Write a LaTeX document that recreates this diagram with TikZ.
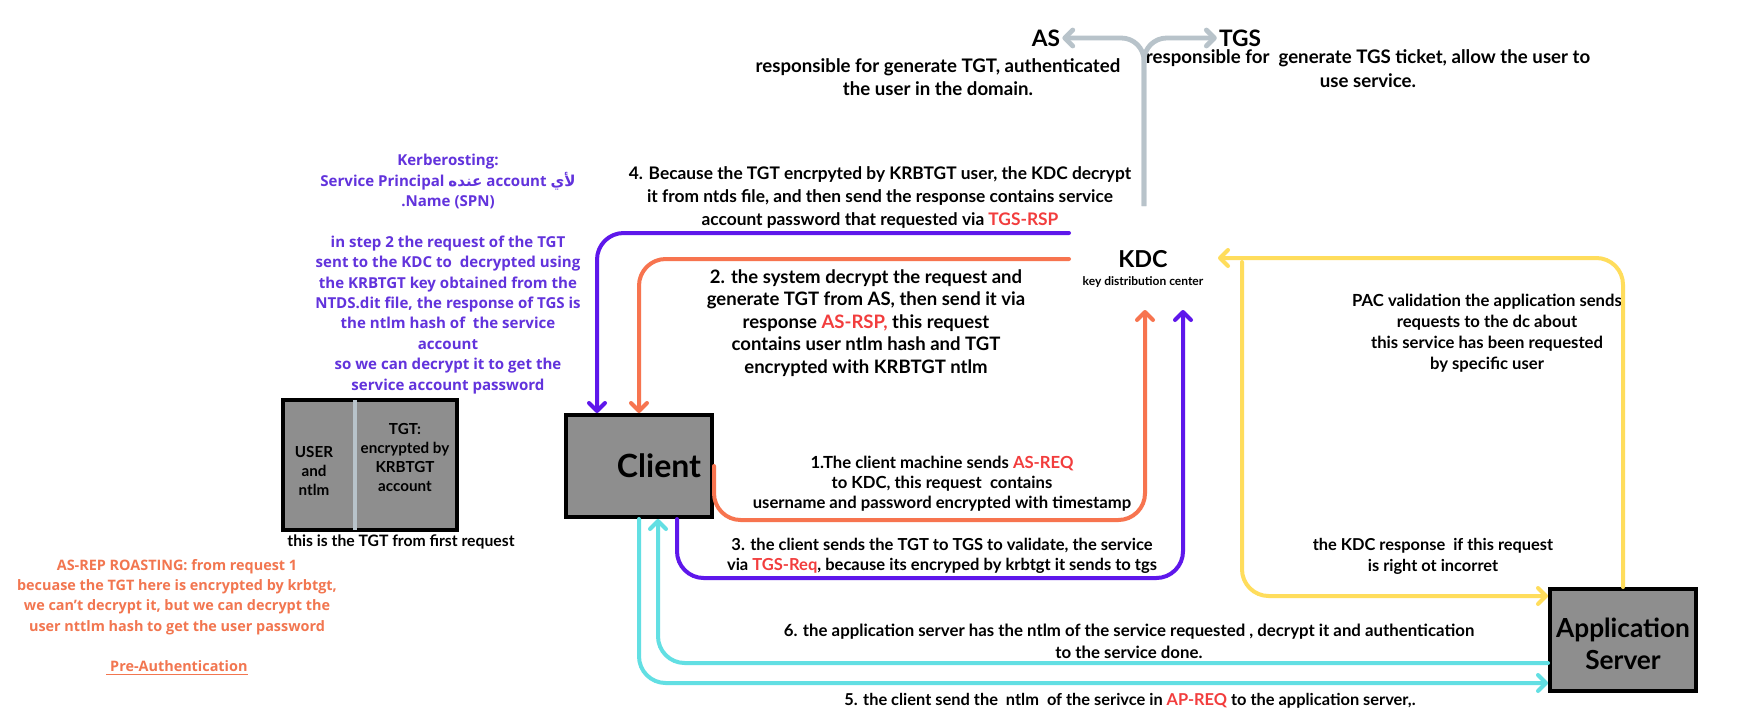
\documentclass[tikz,border=0pt]{standalone}
\usepackage{fontspec}
\setmainfont{Lato}
\newfontfamily\widefont{Open Sans}
\newfontfamily\arabicfont[Script=Arabic]{DejaVu Sans}
\TeXXeTstate=1
\usetikzlibrary{arrows.meta}
\definecolor{kpurple}{HTML}{5E17EB}
\definecolor{kpurpletext}{HTML}{6233DC}
\definecolor{korange}{HTML}{F7744F}
\definecolor{korangetext}{HTML}{F27650}
\definecolor{kred}{HTML}{F23D3D}
\definecolor{kyellow}{HTML}{FFDD5C}
\definecolor{kcyan}{HTML}{62DFE3}
\definecolor{kgray}{HTML}{B8C3CA}
\definecolor{kbox}{HTML}{8E8E8E}
\newcommand{\hl}[1]{\textcolor{kred}{#1}}
\newcommand{\fs}[2]{\fontsize{#1}{#2}\selectfont}
\tikzset{
  conn/.style={line width=3pt, rounded corners=20pt, line cap=round},
  tip/.style={-{Straight Barb[round,length=6pt,width=12pt]}},
  graybox/.style={draw=black, line width=3pt, fill=kbox, inner sep=0pt},
  txt/.style={align=center, inner sep=0pt},
}
\begin{document}
\begin{tikzpicture}[x=0.75pt,y=-0.75pt]
\path[use as bounding box, fill=white] (0,0) rectangle (1750,722);

% boxes
\node[graybox, minimum width=109.5pt, minimum height=76.5pt] (client) at (639,466) {};
\node[txt, font={\bfseries\fs{24}{28}}] (clienttext) at (659,466) {Client};
\node[graybox, minimum width=109.5pt, minimum height=76.5pt] (app) at (1623,640) {};
\node[txt, font={\bfseries\fs{19.7}{24}}] (apptext) at (1623,644) {Application\\Server};
\node[graybox, minimum width=130.5pt, minimum height=97.5pt] (tgtbox) at (370,465) {};
\coordinate (divtop) at (355,400);
\coordinate (divbot) at (355,530);
\draw[kgray, line width=3pt] (divtop) -- (divbot);
\node[txt, font={\bfseries\fs{11.4}{14.25}}] (tgtleft) at (314,471) {USER\\and\\ntlm};
\node[txt, font={\bfseries\fs{11.4}{14.25}}] (tgtright) at (405,457) {TGT:\\encrypted by\\KRBTGT\\account};
\node[txt, font={\bfseries\fs{11.8}{14}}] (tgtcap) at (401,542) {this is the TGT from first request};

% KDC
\node[txt, font={\bfseries\fs{17.5}{20}}] (kdc) at (1143,259) {KDC};
\node[txt, font={\bfseries\fs{9}{11}}] (kdcsub) at (1143,282) {key distribution center};

% AS / TGS
\node[font={\bfseries\fs{17}{20}}, inner sep=1.5pt] (as) at (1046,38) {AS};
\node[font={\bfseries\fs{17}{20}}, inner sep=1.5pt] (tgs) at (1240,38) {TGS};
\node[txt, font={\bfseries\fs{14}{17.25}}] (asdesc) at (938,77) {responsible for generate TGT, authenticated\\the user in the domain.};
\node[txt, font={\bfseries\fs{14}{18}}] (tgsdesc) at (1368,69) {responsible for\ \ generate TGS ticket, allow the user to\\use service.};
\coordinate (grayroot) at (1144,206);
\draw[kgray, line width=3.6pt, rounded corners=17pt, tip] (grayroot) |- (as.east);
\draw[kgray, line width=3.6pt, rounded corners=17pt, tip] (grayroot) |- (tgs.west);

% step texts
\node[txt, font={\bfseries\fs{13}{17.25}}] (s4) at (880,198) {4. Because the TGT encrpyted by KRBTGT user, the KDC decrypt\\it from ntds file, and then send the response contains service\\account password that requested via \hl{TGS-RSP}};
\node[txt, font={\bfseries\fs{13.9}{16.9}}] (s2) at (866,323) {2. the system decrypt the request and\\generate TGT from AS, then send it via\\response \hl{AS-RSP,} this request\\contains user ntlm hash and TGT\\encrypted with KRBTGT ntlm};
\node[txt, font={\bfseries\fs{12.5}{15}}] (s1) at (942,484) {1.The client machine sends \hl{AS-REQ}\\to KDC, this request\ \ contains\\username and password encrypted with timestamp};
\node[txt, font={\bfseries\fs{12.4}{15}}] (s3) at (942,556) {3. the client sends the TGT to TGS to validate, the service\\via \hl{TGS-Req}, because its encryped by krbtgt it sends to tgs};
\node[txt, font={\bfseries\fs{12.6}{16.5}}] (s6) at (1129,641) {6. the application server has the ntlm of the service requested , decrypt it and authentication\\to the service done.};
\node[txt, font={\bfseries\fs{12.3}{15}}] (s5) at (1130,701) {5. the client send the\ \ ntlm\ \ of the serivce in \hl{AP-REQ} to the application server,.};
\node[txt, font={\bfseries\fs{12.5}{15.75}}] (pac) at (1487,333) {PAC validation the application sends\\requests to the dc about\\this service has been requested\\by specific user};
\node[txt, font={\bfseries\fs{12.3}{15.75}}] (kdcresp) at (1433,556) {the KDC response\ \ if this request\\is right ot incorret};

% side notes
\node[txt, text=kpurpletext, font={\widefont\bfseries\fs{11.3}{15.3}}] (kerb) at (448,274) {Kerberosting:\\Service Principal {\arabicfont\beginR عنده\endR} account {\arabicfont\beginR لأي\endR}\\.Name (SPN)\\[15.3pt]in step 2 the request of the TGT\\sent to the KDC to\ \ decrypted using\\the KRBTGT key obtained from the\\NTDS.dit file, the response of TGS is\\the ntlm hash of\ \ the service\\account\\so we can decrypt it to get the\\service account password};
\node[txt, text=korangetext, font={\widefont\bfseries\fs{10.8}{15.2}}] (asrep) at (177,617) {AS-REP ROASTING: from request 1\\becuase the TGT here is encrypted by krbtgt,\\we can’t decrypt it, but we can decrypt the\\user nttlm hash to get the user password\\[15.2pt]\underline{\ Pre-Authentication}};

% connector end points near KDC
\coordinate (kdcin1) at (1145,310);
\coordinate (kdcin3) at (1183,310);
\coordinate (kdcout2) at (1069,259);
\coordinate (kdcout4) at (1069,233);
\coordinate (kdcinpac) at (1218,258);
\coordinate (kdcoutresp) at (1242,262);
\coordinate (turn1) at (1145,520);
\coordinate (turn3) at (1183,578);

% step 1 (orange)
\draw[korange, conn, tip] (client.east) |- (turn1) -- (kdcin1);
% step 2 (orange)
\draw[korange, conn, tip] (kdcout2) -| (client.north);
% step 3 (purple)
\draw[kpurple, conn, tip] ([xshift=28.5pt]client.south) |- (turn3) -- (kdcin3);
% step 4 (purple)
\draw[kpurple, conn, tip] (kdcout4) -| ([xshift=-31.5pt]client.north);
% step 5 (cyan)
\draw[kcyan, conn, tip] (client.south) |- ([yshift=-32.25pt]app.west);
% step 6 (cyan)
\draw[kcyan, conn, tip] ([yshift=-17.25pt]app.west) -| ([xshift=14.25pt]client.south);
% PAC (yellow)
\draw[kyellow, conn, tip] (app.north) |- (kdcinpac);
% KDC response (yellow)
\draw[kyellow, conn, tip] (kdcoutresp) |- ([yshift=33pt]app.west);
\end{tikzpicture}
\end{document}
